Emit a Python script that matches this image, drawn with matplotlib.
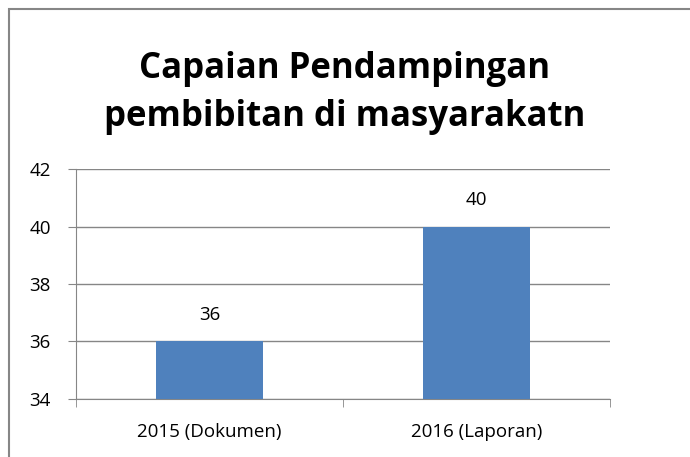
# Capaian Pendampingan pembibitan di masyarakatn - bar chart
import matplotlib.pyplot as plt
from matplotlib.patches import Rectangle

categories = ["2015 (Dokumen)", "2016 (Laporan)"]
values = [36, 40]
y_ticks = [34, 36, 38, 40, 42]

plt.rcParams['font.family'] = ['Open Sans', 'DejaVu Sans']

fig = plt.figure(figsize=(6.9, 4.57), dpi=100)
ax = fig.add_axes([0.110, 0.127, 0.774, 0.503])

grey = "#868686"
x = range(len(categories))
bars = ax.bar(x, [v - y_ticks[0] for v in values], bottom=y_ticks[0],
              width=0.4, color="#4f81bd", zorder=3)
for xi, v in zip(x, values):
    ax.text(xi, v + 0.6, str(v), ha="center", va="bottom", fontsize=13.5)

ax.set_ylim(y_ticks[0], y_ticks[-1])
ax.set_xlim(-0.5, len(categories) - 0.5)
ax.set_yticks(y_ticks)
ax.set_xticks(x)
ax.set_xticklabels(categories)
ax.set_xticks([-0.5, 0.5, 1.5], minor=True)
ax.tick_params(axis="x", which="major", length=0, pad=17, labelsize=13.5)
ax.tick_params(axis="x", which="minor", length=6, color=grey)
ax.tick_params(axis="y", length=6, color=grey, labelsize=13.5, pad=12)
ax.grid(axis="y", color=grey, linewidth=1, zorder=0)
for s in ["top", "right"]:
    ax.spines[s].set_visible(False)
for s in ["left", "bottom"]:
    ax.spines[s].set_color(grey)

fig.text(0.5, 1 - 93 / 457, "Capaian Pendampingan\npembibitan di masyarakatn",
         fontsize=25, fontweight="bold", ha="center", va="center",
         linespacing=1.42)

fig.patches.append(Rectangle((9 / 690, -0.1), 1.2, 1 - 9 / 457 + 0.1,
                             transform=fig.transFigure, fill=False,
                             edgecolor=grey, linewidth=1.5))

fig.savefig("out.png", dpi=100)
